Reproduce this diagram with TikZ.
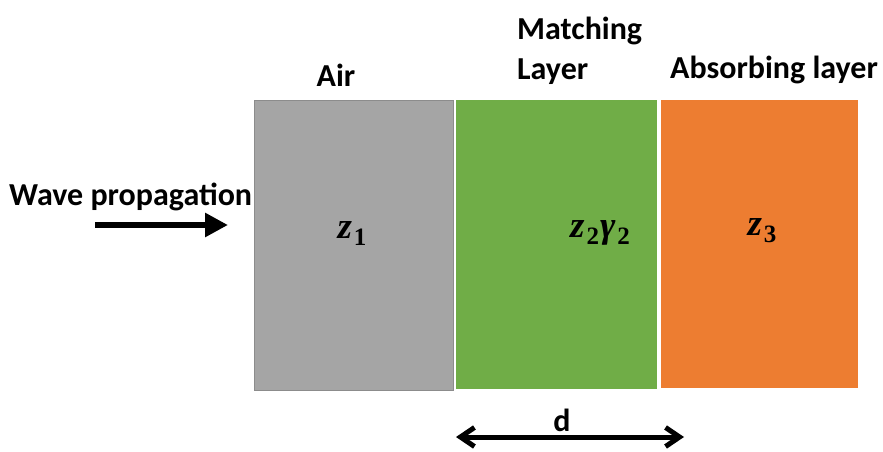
\documentclass[tikz,border=0pt]{standalone}
\usepackage{fontspec}
\setmainfont{Carlito}
\newfontfamily\impfont{Liberation Serif}
\usetikzlibrary{arrows.meta}
\definecolor{airgray}{HTML}{A5A5A5}
\definecolor{airedge}{HTML}{8C8C8C}
\definecolor{matchgreen}{HTML}{70AD47}
\definecolor{absorborange}{HTML}{ED7D31}
% impedance symbol: bold italic letter with a bold upright subscript
\newcommand{\impsym}[2]{{\bfseries\itshape #1}\kern2pt\raisebox{-7pt}{\fontsize{25}{27}\selectfont\bfseries #2}}
\tikzset{
  layer/.style={anchor=north west, inner sep=0pt, outer sep=0pt},
  lbl/.style={font=\fontsize{32}{40}\selectfont\bfseries, inner sep=0pt},
  mathlbl/.style={font=\impfont\fontsize{37}{40}\selectfont, inner sep=0pt},
}
\begin{document}
\begin{tikzpicture}[x=1pt,y=-1pt]
  \useasboundingbox (0,0) rectangle (883,452);
  % layers
  \node[layer, fill=airgray, draw=airedge, line width=1pt,
        minimum width=199pt, minimum height=290pt] (air) at (254.5,100.5) {};
  \node[layer, fill=matchgreen, minimum width=201pt, minimum height=289pt] (match) at (456,100) {};
  \node[layer, fill=absorborange, minimum width=197pt, minimum height=288pt] (absorb) at (661,100) {};
  % titles
  \node[lbl] (airlbl) at (336,75) {Air};
  \node[lbl, anchor=west] (matchlbl) at (517,31) {Matching};
  \node[lbl, anchor=west] (layerlbl) at (517,72) {Layer};
  \node[lbl] (abslbl) at (774,70) {Absorbing layer};
  % impedances
  \node[mathlbl] (z1) at (352,234) {\impsym{z}{1}};
  \node[mathlbl] (z2) at (600,233) {\impsym{z}{2}\kern1pt\impsym{γ}{2}};
  \node[mathlbl] (z3) at (762,231) {\impsym{z}{3}};
  % incident wave
  \node[lbl, anchor=west] (wavelbl) at (9,197) {Wave propagation};
  \coordinate (wstart) at (95,225);
  \coordinate (wend) at (228,225);
  \draw[line width=6.5pt, -{Triangle[length=23pt,width=23pt]}] (wstart) -- (wend);
  % layer thickness
  \node[lbl] (dlbl) at (562,420) {d};
  \coordinate (dl) at (456,437);
  \coordinate (dr) at (684,437);
  \draw[line width=5pt, {Straight Barb[length=14pt,width=19pt]}-{Straight Barb[length=14pt,width=19pt]}] (dl) -- (dr);
\end{tikzpicture}
\end{document}
